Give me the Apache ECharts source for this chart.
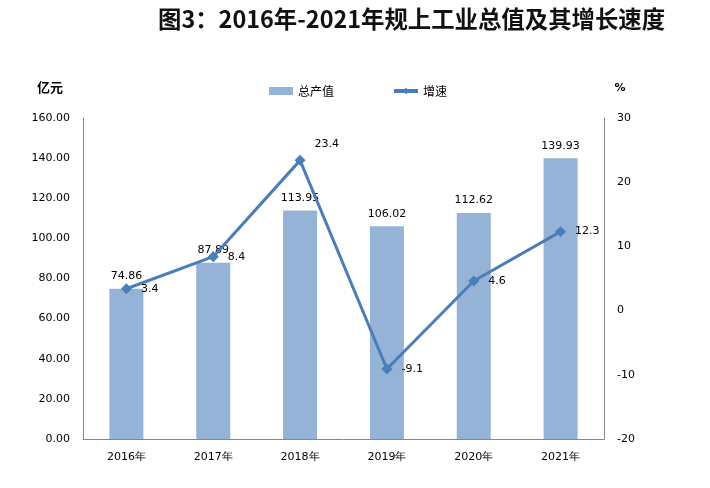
<!DOCTYPE html>
<html>
<head>
<meta charset="utf-8">
<script src="https://cdn.jsdelivr.net/npm/echarts@6/dist/echarts.min.js"></script>
<style>
  html, body { margin: 0; padding: 0; background: #fff; }
  #main { width: 710px; height: 488px; }
</style>
</head>
<body>
<div id="main"></div>
<script>
// 年份
const years = ['2016年', '2017年', '2018年', '2019年', '2020年', '2021年'];
// 总产值（亿元）
const outputValues = [74.86, 87.89, 113.95, 106.02, 112.62, 139.93];
// 增速（%）
const growthRates = [3.4, 8.4, 23.4, -9.1, 4.6, 12.3];

const numFont = 'DejaVu Sans';
const cjkFont = 'Noto Sans CJK SC';

// 2018年的增速标签在右上方
const growthData = growthRates.map((v, i) => {
    if (i === 2) {
        return { value: v, label: { offset: [0, -16] } };
    }
    return v;
});

const option = {
    animation: false,
    backgroundColor: '#fff',
    title: {
        text: '图3：2016年-2021年规上工业总值及其增长速度',
        left: 153,
        top: 2,
        textStyle: {
            fontFamily: cjkFont,
            fontWeight: 'bold',
            fontSize: 23.4,
            color: '#111'
        }
    },
    legend: {
        left: 264,
        top: 80,
        itemGap: 58,
        itemWidth: 24,
        itemHeight: 8,
        textStyle: { fontFamily: cjkFont, fontSize: 12, color: '#000' },
        data: [
            { name: '总产值', icon: 'rect' },
            { name: '增速', lineStyle: { width: 4 } }
        ]
    },
    grid: {
        left: 83,
        right: 106,
        top: 118,
        bottom: 49
    },
    xAxis: {
        type: 'category',
        data: years,
        axisLine: { lineStyle: { color: '#868686' } },
        axisTick: { show: false },
        axisLabel: {
            margin: 13,
            fontFamily: numFont,
            fontSize: 11,
            color: '#000'
        }
    },
    yAxis: [
        {
            type: 'value',
            min: 0,
            max: 160,
            interval: 20,
            name: '亿元',
            nameLocation: 'end',
            nameGap: 24,
            nameTextStyle: {
                fontFamily: cjkFont,
                fontWeight: 'bold',
                fontSize: 13,
                color: '#000',
                align: 'center',
                padding: [0, 66, 0, 0]
            },
            axisLine: { show: true, lineStyle: { color: '#868686' } },
            axisTick: { show: false },
            splitLine: { show: false },
            axisLabel: {
                margin: 13,
                fontFamily: numFont,
                fontSize: 11,
                color: '#000',
                formatter: v => v.toFixed(2)
            }
        },
        {
            type: 'value',
            min: -20,
            max: 30,
            interval: 10,
            position: 'right',
            name: '%',
            nameLocation: 'end',
            nameGap: 24,
            nameTextStyle: {
                fontFamily: numFont,
                fontWeight: 'bold',
                fontSize: 11,
                color: '#000',
                align: 'center',
                padding: [0, 0, 0, 32]
            },
            axisLine: { show: true, lineStyle: { color: '#868686' } },
            axisTick: { show: false },
            splitLine: { show: false },
            axisLabel: {
                margin: 13,
                fontFamily: numFont,
                fontSize: 11,
                color: '#000'
            }
        }
    ],
    series: [
        {
            name: '总产值',
            type: 'bar',
            yAxisIndex: 0,
            data: outputValues,
            barWidth: 34,
            itemStyle: { color: '#95B3D7' },
            label: {
                show: true,
                position: 'top',
                distance: 7,
                fontFamily: numFont,
                fontSize: 11,
                color: '#000',
                formatter: p => p.value.toFixed(2)
            }
        },
        {
            name: '增速',
            type: 'line',
            yAxisIndex: 1,
            data: growthData,
            symbol: 'diamond',
            symbolSize: 11,
            lineStyle: { color: '#4A7EBB', width: 3 },
            itemStyle: { color: '#4A7EBB' },
            label: {
                show: true,
                position: 'right',
                distance: 9,
                fontFamily: numFont,
                fontSize: 11,
                color: '#000'
            }
        }
    ]
};

const myChart = echarts.init(document.getElementById('main'));
myChart.setOption(option);
</script>
</body>
</html>
